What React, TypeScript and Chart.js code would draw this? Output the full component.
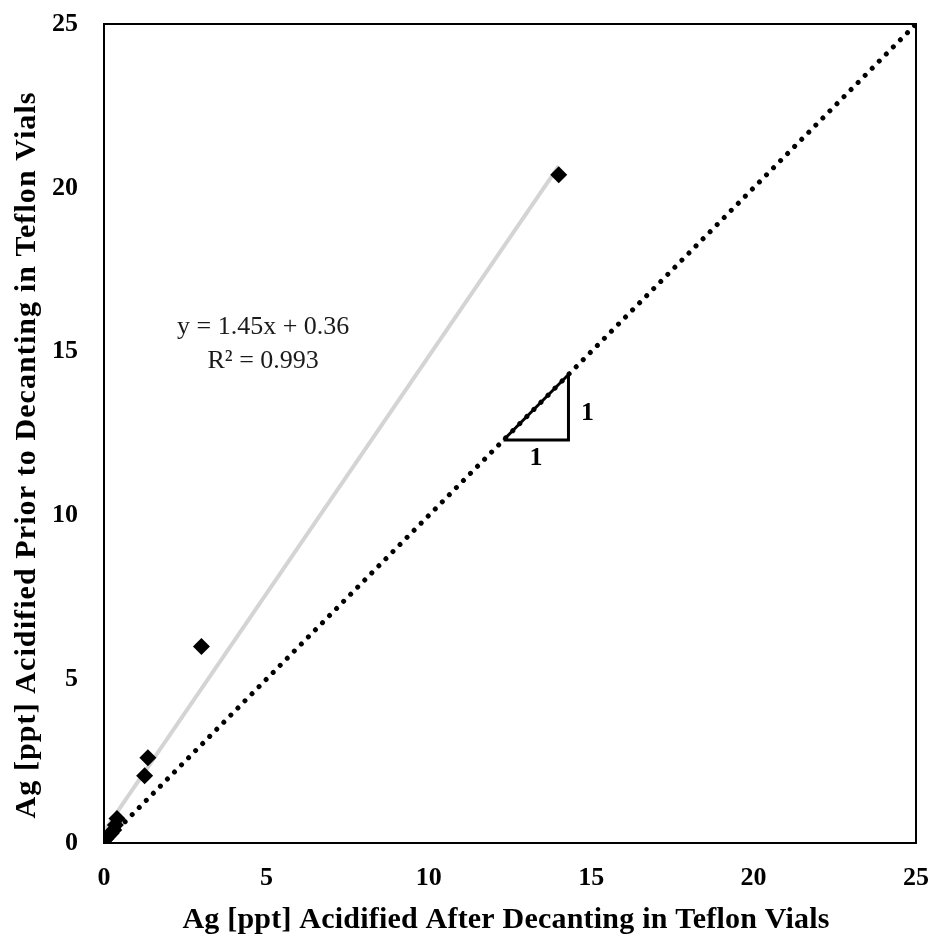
import { useEffect, useRef } from "react";
import { Chart, registerables } from "chart.js";

Chart.register(...registerables);

// Ag concentrations (ppt): acidified after decanting (x) vs. acidified prior to decanting (y)
const afterDecanting = [14.0, 3.0, 1.35, 1.25, 0.4, 0.35, 0.3, 0.22, 0.12, 0.05];
const priorToDecanting = [20.4, 6.0, 2.6, 2.05, 0.75, 0.55, 0.4, 0.3, 0.2, 0.12];

// Linear fit reported on the chart
const TREND_SLOPE = 1.45;
const TREND_INTERCEPT = 0.36;
const R_SQUARED = 0.993;

// Axis range and ticks
const AXIS_MIN = 0;
const AXIS_MAX = 25;
const AXIS_STEP = 5;

// 1:1 reference line and its slope triangle (corner values)
const oneToOne = [0, 25];
const triangleCorners = [12.3, 14.3];
const triangleLabel = "1";

const FONT = "'Liberation Serif', 'DejaVu Serif', serif";

const xTitle = "Ag [ppt] Acidified After Decanting in Teflon Vials";
const yTitle = "Ag [ppt] Acidified Prior to Decanting in Teflon Vials";

// Draws a bold axis title spread to a given run length.
function drawSpreadText(ctx: CanvasRenderingContext2D, text: string, run: number) {
  ctx.font = `bold 30px ${FONT}`;
  (ctx as any).letterSpacing = "0px";
  const w = ctx.measureText(text).width;
  const spacing = Math.max(0, (run - w) / (text.length - 1));
  (ctx as any).letterSpacing = `${spacing}px`;
  ctx.textAlign = "left";
  ctx.textBaseline = "alphabetic";
  ctx.fillText(text, -run / 2, 0);
}

export default function App() {
  const canvasRef = useRef<HTMLCanvasElement | null>(null);

  useEffect(() => {
    const canvas = canvasRef.current;
    if (!canvas) return;

    const points = afterDecanting.map((x, i) => ({ x, y: priorToDecanting[i] }));
    const xMin = Math.min(...afterDecanting);
    const xMax = Math.max(...afterDecanting);
    const trend = [xMin, xMax].map((x) => ({ x, y: TREND_SLOPE * x + TREND_INTERCEPT }));
    const identity = oneToOne.map((v) => ({ x: v, y: v }));
    const [t0, t1] = triangleCorners;
    const triangle = [
      { x: t0, y: t0 },
      { x: t1, y: t0 },
      { x: t1, y: t1 },
      { x: t0, y: t0 },
    ];

    const frameAndNotes = {
      id: "frameAndNotes",
      afterDatasetsDraw(chart: any) {
        const { ctx, chartArea, scales } = chart;
        const xs = scales.x;
        const ys = scales.y;
        ctx.save();
        ctx.strokeStyle = "#000";
        ctx.lineWidth = 2;
        ctx.strokeRect(chartArea.left, chartArea.top, chartArea.right - chartArea.left, chartArea.bottom - chartArea.top);

        // regression equation
        ctx.fillStyle = "#1a1a1a";
        ctx.textAlign = "center";
        ctx.textBaseline = "middle";
        ctx.font = `26px ${FONT}`;
        const ex = xs.getPixelForValue(4.9);
        const ey = ys.getPixelForValue(15.75);
        const sign = TREND_INTERCEPT >= 0 ? "+" : "-";
        ctx.fillText(`y = ${TREND_SLOPE.toFixed(2)}x ${sign} ${Math.abs(TREND_INTERCEPT).toFixed(2)}`, ex, ey);
        ctx.fillText(`R² = ${R_SQUARED.toFixed(3)}`, ex, ey + 34);

        // slope triangle labels
        ctx.fillStyle = "#000";
        ctx.font = `bold 26px ${FONT}`;
        ctx.fillText(triangleLabel, xs.getPixelForValue((t0 + t1) / 2), ys.getPixelForValue(t0) + 18);
        ctx.fillText(triangleLabel, xs.getPixelForValue(t1) + 19, ys.getPixelForValue((t0 + t1) / 2) + 6);
        ctx.restore();
      },
      afterDraw(chart: any) {
        const { ctx, chartArea } = chart;
        // axis titles
        ctx.save();
        ctx.fillStyle = "#000";
        ctx.translate((chartArea.left + chartArea.right) / 2 - 4, 928);
        drawSpreadText(ctx, xTitle, 647);
        ctx.restore();

        ctx.save();
        ctx.fillStyle = "#000";
        ctx.translate(35, (chartArea.top + chartArea.bottom) / 2 + 22);
        ctx.rotate(-Math.PI / 2);
        drawSpreadText(ctx, yTitle, 726);
        ctx.restore();
      },
    };

    const tickFont = { family: FONT, size: 26, weight: "bold" as const };

    const chart = new Chart(canvas, {
      type: "scatter",
      data: {
        datasets: [
          {
            label: "1:1",
            data: identity,
            showLine: true,
            borderColor: "#000",
            borderWidth: 5,
            borderDash: [0.01, 10],
            borderCapStyle: "round",
            pointRadius: 0,
            order: 3,
          },
          {
            label: "triangle",
            data: triangle,
            showLine: true,
            borderColor: "#000",
            borderWidth: 3,
            pointRadius: 0,
            order: 2,
          },
          {
            label: "Linear fit",
            data: trend,
            showLine: true,
            borderColor: "#d4d4d4",
            borderWidth: 4,
            pointRadius: 0,
            order: 1,
          },
          {
            label: "Ag",
            data: points,
            pointStyle: "rectRot",
            pointRadius: 8.5,
            backgroundColor: "#000",
            borderColor: "#000",
            borderWidth: 0,
            showLine: false,
            order: 0,
          },
        ],
      },
      options: {
        responsive: false,
        animation: false,
        layout: { padding: { top: 24, right: 20, left: 12, bottom: 0 } },
        plugins: {
          legend: { display: false },
          tooltip: { enabled: false },
          title: { display: false },
        },
        scales: {
          x: {
            type: "linear",
            min: AXIS_MIN,
            max: AXIS_MAX,
            ticks: { stepSize: AXIS_STEP, color: "#000", font: tickFont, padding: 20, maxRotation: 0 },
            grid: { display: false, drawTicks: false },
            border: { display: false },
            title: { display: false },
            afterFit(scale: any) {
              scale.height = 95;
              scale.paddingLeft = 0;
              scale.paddingRight = 0;
            },
          },
          y: {
            type: "linear",
            min: AXIS_MIN,
            max: AXIS_MAX,
            ticks: { stepSize: AXIS_STEP, color: "#000", font: tickFont, padding: 26 },
            grid: { display: false, drawTicks: false },
            border: { display: false },
            title: { display: false },
            afterFit(scale: any) {
              scale.width = 92;
              scale.paddingTop = 0;
              scale.paddingBottom = 0;
            },
          },
        },
      },
      plugins: [frameAndNotes],
    } as any);

    return () => chart.destroy();
  }, []);

  return (
    <div style={{ position: "fixed", left: 0, top: 0, width: 936, height: 938, background: "#fff" }}>
      <canvas ref={canvasRef} width={936} height={938} />
    </div>
  );
}
